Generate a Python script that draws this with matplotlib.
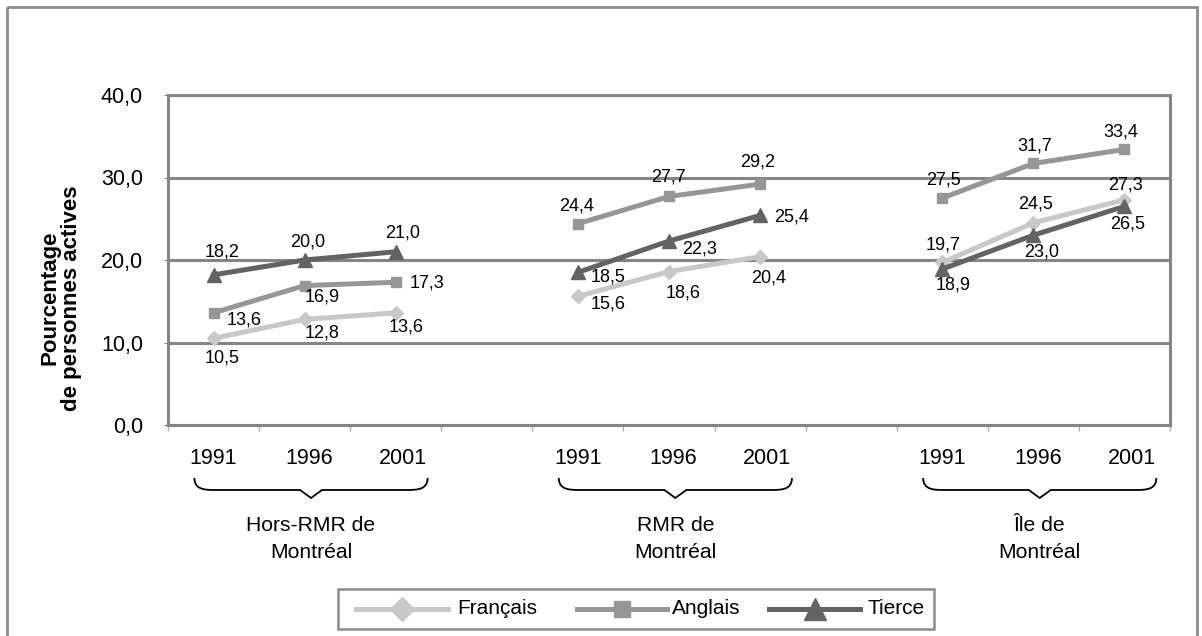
import numpy as np
import matplotlib
matplotlib.use("Agg")
import matplotlib.pyplot as plt
from matplotlib import transforms
from matplotlib.path import Path
from matplotlib.patches import PathPatch, Rectangle
from matplotlib.lines import Line2D

plt.rcParams["font.family"] = ["Liberation Sans", "DejaVu Sans"]

# ---- data ----
groups = ["Hors-RMR de\nMontréal", "RMR de\nMontréal", "Île de\nMontréal"]
years = ["1991", "1996", "2001"]
francais = [[10.5, 12.8, 13.6], [15.6, 18.6, 20.4], [19.7, 24.5, 27.3]]
anglais = [[13.6, 16.9, 17.3], [24.4, 27.7, 29.2], [27.5, 31.7, 33.4]]
tierce = [[18.2, 20.0, 21.0], [18.5, 22.3, 25.4], [18.9, 23.0, 26.5]]
series_names = ["Français", "Anglais", "Tierce"]
yticks = [0, 10, 20, 30, 40]

# label offsets in pixels (dx right, dy down), per series / group / year
lab_off = {
    "Français": [[(9, 20), (17, 14), (10, 14)],
                 [(30, 8), (14, 21), (9, 21)],
                 [(1, -17), (2, -19), (1, -15)]],
    "Anglais": [[(31, 7), (18, 11), (31, 1)],
                [(-1, -18), (-1, -19), (-2, -22)],
                [(1, -18), (1, -17), (-4, -17)]],
    "Tierce": [[(9, -23), (3, -18), (7, -19)],
               [(30, 5), (31, 8), (31, 2)],
               [(11, 16), (8, 17), (3, 18)]],
}
styles = {
    "Français": dict(color="#c8c8c8", marker="D", ms=7.5),
    "Anglais": dict(color="#969696", marker="s", ms=7.5),
    "Tierce": dict(color="#636363", marker="^", ms=9.5),
}
values = {"Français": francais, "Anglais": anglais, "Tierce": tierce}

W, H = 1202, 636
fig = plt.figure(figsize=(W / 100, H / 100), dpi=100)
fig.patch.set_facecolor("white")

# overlay in pixel coordinates (y downward) for frame, braces and legend
ov = fig.add_axes([0, 0, 1, 1], zorder=0)
ov.set_xlim(0, W)
ov.set_ylim(H, 0)
ov.axis("off")
ov.patch.set_alpha(0)

ax = fig.add_axes([168 / W, 1 - 425 / H, (1170 - 168) / W, (425 - 95) / H], zorder=1)

grid_c = "#858585"
n_cat = 11
x_pos = []
for g in range(3):
    x_pos.append([g * 4 + i for i in range(3)])

for name in series_names:
    st = styles[name]
    xs, ys = [], []
    for g in range(3):
        xs += x_pos[g] + [np.nan]
        ys += values[name][g] + [np.nan]
    ax.plot(xs, ys, color=st["color"], lw=3.6, marker=st["marker"],
            ms=st["ms"], mec=st["color"], mfc=st["color"], zorder=3,
            solid_joinstyle="round")
    for g in range(3):
        for i in range(3):
            v = values[name][g][i]
            dx, dy = lab_off[name][g][i]
            ax.annotate(f"{v:.1f}".replace(".", ","), (x_pos[g][i], v),
                        xytext=(dx, -dy), textcoords="offset pixels",
                        ha="center", va="center", fontsize=13,
                        color="black", zorder=4)

ax.set_xlim(-0.5, n_cat - 0.5)
ax.set_ylim(0, 40)
ax.set_yticks(yticks)
ax.set_yticklabels([f"{t:.1f}".replace(".", ",") for t in yticks], fontsize=15.5)
ax.yaxis.grid(True, color=grid_c, lw=2.2)
ax.set_axisbelow(True)
for s in ax.spines.values():
    s.set_color(grid_c)
    s.set_linewidth(2.2)
ax.tick_params(axis="y", length=3, color=grid_c, pad=15)
ax.set_xticks(np.arange(-0.5, n_cat, 1.0))
ax.set_xticklabels([])
ax.tick_params(axis="x", length=4, width=1, color="#b0b0b0")

ax.set_ylabel("Pourcentage\nde personnes actives", fontsize=16,
              fontweight="bold", linespacing=1.05)
ax.yaxis.set_label_coords(-0.086, 0.385)

# years, braces and group names under the axis
bt = transforms.blended_transform_factory(ax.transData, ov.transData)
year_shift = [0.0, 0.05, 0.08]
for g in range(3):
    for i in range(3):
        ax.text(x_pos[g][i] + year_shift[i], 458, years[i], transform=bt,
                ha="center", va="center", fontsize=15.5)
    c = x_pos[g][1] + 0.07
    half = 1.28
    x0, x1 = c - half, c + half
    yt, ym, yp = 478, 490, 498
    e = 0.12
    verts = [(x0, yt), (x0, ym), (x0 + e, ym), (x0 + 2 * e, ym),
             (c - e, ym), (c - e, ym), (c, yp),
             (c + e, ym), (c + e, ym), (x1 - 2 * e, ym),
             (x1 - e, ym), (x1, ym), (x1, yt)]
    codes = [Path.MOVETO, Path.CURVE4, Path.CURVE4, Path.CURVE4,
             Path.LINETO, Path.CURVE3, Path.CURVE3,
             Path.CURVE3, Path.CURVE3, Path.LINETO,
             Path.CURVE4, Path.CURVE4, Path.CURVE4]
    ax.add_patch(PathPatch(Path(verts, codes), transform=bt, fill=False,
                           lw=1.3, edgecolor="black", clip_on=False))
    ax.text(c, 539, groups[g], transform=bt, ha="center", va="center",
            fontsize=15.2, linespacing=1.5)

# outer frame
ov.add_patch(Rectangle((6.5, 6.5), 1190, 700, fill=False, edgecolor="#8c8c8c",
                       lw=2.0, clip_on=False))

# legend box
ov.add_patch(Rectangle((338, 589), 596, 40, fill=True, facecolor="white",
                       edgecolor="#8c8c8c", lw=1.8))
leg_items = [(356, 448, 457), (577, 667, 672), (769, 860, 867)]
for name, (l0, l1, tx) in zip(series_names, leg_items):
    st = styles[name]
    ov.add_line(Line2D([l0, (l0 + l1) / 2, l1], [609, 609, 609],
                       color=st["color"], lw=3.6, marker=st["marker"],
                       ms=st["ms"] * 1.6, markevery=[1], mec=st["color"],
                       mfc=st["color"]))
    ov.text(tx, 609, name, ha="left", va="center", fontsize=15)

fig.savefig("out.png", dpi=100, facecolor="white")
